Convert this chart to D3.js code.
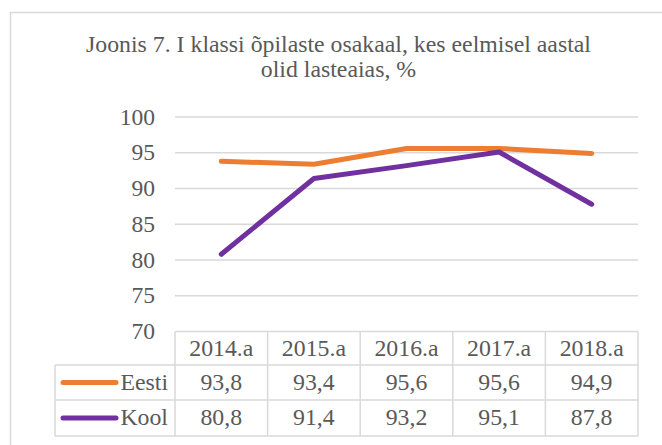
<!DOCTYPE html>
<html>
<head>
<meta charset="utf-8">
<script src="https://cdnjs.cloudflare.com/ajax/libs/d3/7.8.5/d3.min.js"></script>
<style>
  body { margin: 0; background: #fff; }
</style>
</head>
<body>
<div id="vis"></div>
<script type="text/javascript">

    const years = ["2014.a", "2015.a", "2016.a", "2017.a", "2018.a"];
    const eesti = [93.8, 93.4, 95.6, 95.6, 94.9];
    const kool = [80.8, 91.4, 93.2, 95.1, 87.8];
    const yTicks = [70, 75, 80, 85, 90, 95, 100];
    const titleLines = ["Joonis 7. I klassi õpilaste osakaal, kes eelmisel aastal", "olid lasteaias, %"];

    const series = [
        {name: "Eesti", values: eesti, color: "#ED7D31"},
        {name: "Kool", values: kool, color: "#7030A0"}
    ];

    const W = 662, H = 445;
    const grid = "#d9d9d9";
    const svg = d3.select("#vis").append("svg")
        .attr("width", W).attr("height", H)
        .attr("font-family", "'Liberation Serif', 'Times New Roman', Tinos, 'Nimbus Roman', 'DejaVu Serif', serif")
        .attr("fill", "#595959");

    // chart border
    svg.append("rect")
        .attr("x", 10.5).attr("y", 12.5)
        .attr("width", 700).attr("height", 500)
        .style("fill", "none").style("stroke", grid).style("stroke-width", 1.5);

    // title
    svg.selectAll("text.title")
        .data(titleLines)
        .enter().append("text")
        .attr("class", "title")
        .attr("x", 338.5)
        .attr("y", (d, i) => 52 + i * 25)
        .attr("text-anchor", "middle")
        .style("font-size", "23.8px")
        .text(d => d);

    const x = d3.scaleBand().domain(years).range([175, 638]);
    const y = d3.scaleLinear().domain([70, 100]).range([331.5, 117]);

    // gridlines
    svg.append("g").selectAll("line")
        .data(yTicks.filter(t => t > 70))
        .enter().append("line")
        .attr("x1", 175).attr("x2", 638)
        .attr("y1", d => y(d)).attr("y2", d => y(d))
        .style("stroke", grid).style("stroke-width", 1.5);

    // y labels
    svg.append("g").selectAll("text")
        .data(yTicks)
        .enter().append("text")
        .attr("x", 155)
        .attr("y", d => y(d) + 7.5)
        .attr("text-anchor", "end")
        .style("font-size", "23.5px")
        .text(d => d);

    // lines
    const line = d3.line()
        .x((d, i) => x(years[i]) + x.bandwidth() / 2)
        .y(d => y(d));

    svg.append("g").selectAll("path")
        .data(series)
        .enter().append("path")
        .attr("d", d => line(d.values))
        .style("fill", "none")
        .style("stroke", d => d.color)
        .style("stroke-width", 5)
        .style("stroke-linecap", "round")
        .style("stroke-linejoin", "round");

    // data table
    const rowTop = [331.5, 365, 400, 436];
    const tbl = svg.append("g");
    const hline = (x1, x2, yy) => tbl.append("line")
        .attr("x1", x1).attr("x2", x2).attr("y1", yy).attr("y2", yy)
        .style("stroke", grid).style("stroke-width", 1.5);
    const vline = (xx, y1, y2) => tbl.append("line")
        .attr("x1", xx).attr("x2", xx).attr("y1", y1).attr("y2", y2)
        .style("stroke", grid).style("stroke-width", 1.5);

    hline(175, 638, rowTop[0]);
    hline(55, 638, rowTop[1]);
    hline(55, 638, rowTop[2]);
    hline(55, 638, rowTop[3]);
    vline(55, rowTop[1], rowTop[3]);
    years.forEach(yr => vline(x(yr), rowTop[0], rowTop[3]));
    vline(638, rowTop[0], rowTop[3]);

    tbl.selectAll("text.hdr")
        .data(years)
        .enter().append("text")
        .attr("class", "hdr")
        .attr("x", d => x(d) + x.bandwidth() / 2)
        .attr("y", 355.5)
        .attr("text-anchor", "middle")
        .style("font-size", "23.8px")
        .text(d => d);

    series.forEach((s, si) => {
        const base = rowTop[si + 1] + 24.5;
        const mid = (rowTop[si + 1] + rowTop[si + 2]) / 2;
        tbl.append("line")
            .attr("x1", 63).attr("x2", 116)
            .attr("y1", mid).attr("y2", mid)
            .style("stroke", s.color).style("stroke-width", 5)
            .style("stroke-linecap", "round");
        tbl.append("text")
            .attr("x", 168).attr("y", base)
            .attr("text-anchor", "end")
            .style("font-size", "23.8px")
            .text(s.name);
        tbl.selectAll("text.v" + si)
            .data(s.values)
            .enter().append("text")
            .attr("class", "v" + si)
            .attr("x", (d, i) => x(years[i]) + x.bandwidth() / 2)
            .attr("y", base)
            .attr("text-anchor", "middle")
            .style("font-size", "23.8px")
            .text(d => d3.format(".1f")(d).replace(".", ","));
    });

</script>
</body>
</html>
